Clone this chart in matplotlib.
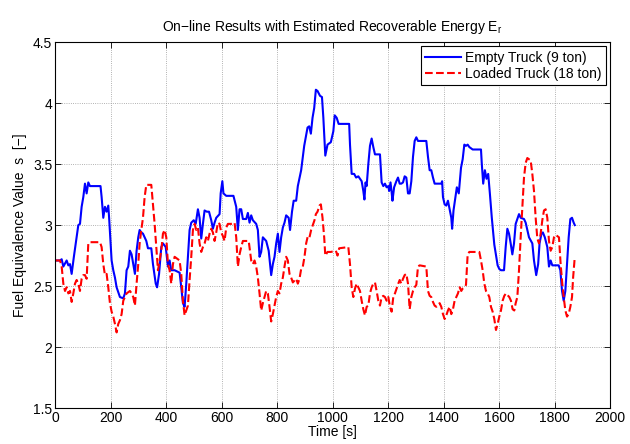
"""On-line results: fuel equivalence value s for empty and loaded truck."""

import matplotlib

matplotlib.use("Agg")
import matplotlib.pyplot as plt

# Empty truck (9 ton)
EMPTY_TIME = [
    0, 18, 24, 30, 42, 48, 54, 60, 68, 78, 84, 90, 96, 102, 108, 114, 120, 126,
    164, 168, 174, 180, 186, 192, 195, 204, 210, 216, 222, 234, 246, 252, 258,
    264, 270, 276, 282, 288, 294, 300, 305, 311, 317, 329, 335, 347, 353, 363,
    368, 375, 383, 389, 399, 407, 413, 419, 431, 449, 455, 461, 467, 473, 479,
    485, 491, 500, 507, 515, 521, 527, 533, 539, 547, 555, 563, 569, 575, 581,
    593, 597, 603, 607, 617, 643, 653, 659, 665, 671, 677, 689, 695, 701, 707,
    713, 725, 731, 737, 743, 749, 761, 770, 779, 785, 791, 797, 803, 809, 815,
    821, 827, 833, 842, 847, 854, 860, 869, 875, 887, 898, 910, 916, 922, 928,
    934, 940, 946, 955, 962, 967, 974, 982, 994, 1003, 1008, 1015, 1022, 1060,
    1063, 1069, 1078, 1085, 1093, 1105, 1111, 1115, 1119, 1123, 1129, 1135,
    1141, 1147, 1153, 1171, 1177, 1183, 1189, 1195, 1201, 1204, 1209, 1213,
    1216, 1222, 1230, 1236, 1242, 1248, 1254, 1260, 1266, 1272, 1278, 1284,
    1290, 1296, 1302, 1308, 1338, 1344, 1350, 1356, 1362, 1368, 1392, 1395,
    1398, 1404, 1410, 1416, 1422, 1428, 1431, 1436, 1443, 1448, 1455, 1463,
    1469, 1475, 1481, 1487, 1493, 1505, 1535, 1538, 1543, 1549, 1555, 1561,
    1567, 1574, 1583, 1595, 1601, 1607, 1618, 1624, 1630, 1636, 1642, 1648,
    1654, 1660, 1666, 1672, 1678, 1690, 1696, 1702, 1708, 1720, 1726, 1734,
    1741, 1746, 1753, 1758, 1765, 1774, 1780, 1786, 1792, 1815, 1821, 1827,
    1833, 1839, 1845, 1851, 1857, 1863, 1869, 1873,
]
EMPTY_S = [
    2.71, 2.71, 2.72, 2.66, 2.71, 2.67, 2.68, 2.60, 2.74, 2.90, 3.00, 3.01,
    3.15, 3.23, 3.34, 3.26, 3.35, 3.32, 3.32, 3.23, 3.06, 3.15, 3.11, 3.16,
    3.06, 2.71, 2.63, 2.57, 2.49, 2.41, 2.40, 2.44, 2.63, 2.66, 2.79, 2.76,
    2.68, 2.60, 2.79, 2.90, 2.96, 2.94, 2.93, 2.87, 2.81, 2.81, 2.68, 2.52,
    2.49, 2.60, 2.82, 2.85, 2.82, 2.66, 2.71, 2.63, 2.63, 2.61, 2.49, 2.36,
    2.33, 2.52, 2.74, 2.96, 3.02, 3.04, 3.01, 3.13, 3.06, 2.89, 3.01, 3.12,
    3.11, 3.11, 3.04, 2.97, 3.02, 3.06, 3.09, 3.26, 3.36, 3.26, 3.24, 3.24,
    3.15, 2.96, 3.13, 3.13, 3.05, 3.05, 3.10, 3.02, 3.08, 3.04, 3.01, 2.96,
    2.74, 2.78, 2.90, 2.87, 2.79, 2.59, 2.68, 2.74, 2.85, 2.93, 2.78, 2.90,
    2.98, 3.02, 3.08, 3.06, 2.96, 3.11, 3.20, 3.20, 3.32, 3.45, 3.65, 3.80,
    3.81, 3.75, 3.88, 3.96, 4.11, 4.10, 4.06, 4.05, 3.88, 3.57, 3.66, 3.68,
    3.77, 3.90, 3.88, 3.83, 3.83, 3.66, 3.42, 3.42, 3.39, 3.40, 3.36, 3.28,
    3.21, 3.35, 3.32, 3.50, 3.65, 3.71, 3.64, 3.58, 3.58, 3.35, 3.32, 3.34,
    3.31, 3.32, 3.28, 3.35, 3.27, 3.20, 3.31, 3.36, 3.39, 3.34, 3.34, 3.35,
    3.40, 3.39, 3.26, 3.26, 3.36, 3.56, 3.69, 3.72, 3.69, 3.69, 3.56, 3.45,
    3.45, 3.39, 3.34, 3.34, 3.36, 3.23, 3.17, 3.16, 3.20, 3.13, 3.06, 2.97,
    3.12, 3.23, 3.31, 3.26, 3.47, 3.54, 3.66, 3.65, 3.66, 3.64, 3.62, 3.62,
    3.50, 3.34, 3.45, 3.38, 3.42, 3.26, 3.06, 2.84, 2.67, 2.64, 2.63, 2.63,
    2.82, 2.97, 2.93, 2.85, 2.76, 2.85, 3.01, 3.05, 3.09, 3.06, 3.05, 3.02,
    2.96, 2.90, 2.85, 2.71, 2.59, 2.68, 2.85, 2.93, 2.94, 2.90, 2.82, 2.66,
    2.71, 2.67, 2.67, 2.63, 2.46, 2.38, 2.46, 2.68, 2.90, 3.05, 3.06, 3.02,
    3.00,
]

# Loaded truck (18 ton)
LOADED_TIME = [
    0, 18, 24, 30, 36, 42, 48, 54, 60, 66, 72, 78, 84, 90, 96, 102, 108, 114,
    120, 126, 162, 168, 174, 180, 186, 192, 198, 204, 210, 216, 222, 228, 234,
    240, 246, 252, 258, 270, 276, 282, 288, 294, 300, 305, 311, 317, 323, 329,
    347, 353, 359, 365, 371, 377, 383, 389, 395, 401, 407, 413, 419, 425, 431,
    443, 449, 455, 461, 467, 473, 479, 485, 491, 497, 503, 509, 515, 521, 527,
    533, 539, 545, 551, 557, 563, 569, 575, 581, 587, 593, 599, 605, 611, 617,
    623, 635, 647, 653, 659, 665, 671, 677, 698, 707, 713, 719, 725, 731, 737,
    743, 749, 755, 761, 767, 773, 779, 785, 791, 797, 803, 809, 815, 821, 827,
    833, 839, 845, 851, 857, 869, 875, 881, 887, 893, 899, 905, 911, 917, 923,
    929, 935, 940, 946, 953, 958, 964, 970, 974, 982, 994, 1012, 1018, 1024,
    1057, 1063, 1069, 1075, 1081, 1087, 1093, 1099, 1105, 1111, 1117, 1123,
    1129, 1135, 1141, 1147, 1153, 1159, 1165, 1171, 1177, 1183, 1189, 1195,
    1201, 1207, 1213, 1219, 1225, 1231, 1237, 1242, 1248, 1254, 1260, 1266,
    1272, 1278, 1284, 1290, 1296, 1302, 1308, 1314, 1338, 1344, 1350, 1356,
    1362, 1368, 1374, 1386, 1392, 1398, 1404, 1410, 1416, 1422, 1428, 1434,
    1440, 1446, 1452, 1458, 1464, 1469, 1475, 1481, 1487, 1493, 1529, 1535,
    1541, 1547, 1553, 1559, 1565, 1571, 1577, 1583, 1589, 1595, 1601, 1607,
    1613, 1619, 1625, 1637, 1643, 1649, 1655, 1660, 1666, 1672, 1678, 1684,
    1690, 1696, 1702, 1708, 1714, 1720, 1726, 1732, 1738, 1744, 1750, 1756,
    1762, 1768, 1774, 1780, 1786, 1792, 1798, 1804, 1816, 1822, 1828, 1833,
    1839, 1845, 1851, 1857, 1863, 1867, 1873,
]
LOADED_S = [
    2.71, 2.71, 2.66, 2.52, 2.46, 2.49, 2.44, 2.46, 2.37, 2.44, 2.52, 2.55,
    2.52, 2.46, 2.56, 2.59, 2.59, 2.56, 2.85, 2.86, 2.86, 2.82, 2.68, 2.59,
    2.60, 2.49, 2.36, 2.29, 2.25, 2.19, 2.12, 2.19, 2.22, 2.27, 2.38, 2.41,
    2.44, 2.46, 2.44, 2.41, 2.34, 2.52, 2.68, 2.85, 2.96, 3.06, 3.23, 3.33,
    3.33, 3.17, 3.01, 2.82, 2.63, 2.71, 2.79, 2.93, 2.96, 2.90, 2.68, 2.63,
    2.52, 2.68, 2.74, 2.72, 2.71, 2.60, 2.38, 2.26, 2.30, 2.34, 2.55, 2.74,
    2.96, 3.01, 2.96, 2.98, 2.85, 2.78, 2.82, 2.85, 2.90, 2.87, 2.93, 2.97,
    2.94, 2.87, 2.94, 3.02, 3.01, 2.94, 2.91, 2.87, 2.98, 3.01, 3.01, 3.02,
    2.90, 2.66, 2.76, 2.82, 2.87, 2.87, 2.71, 2.68, 2.71, 2.66, 2.57, 2.44,
    2.30, 2.36, 2.41, 2.46, 2.44, 2.33, 2.21, 2.27, 2.34, 2.41, 2.46, 2.44,
    2.52, 2.57, 2.66, 2.74, 2.71, 2.60, 2.57, 2.53, 2.56, 2.52, 2.56, 2.64,
    2.66, 2.74, 2.85, 2.91, 2.90, 2.96, 3.00, 3.04, 3.09, 3.11, 3.16, 3.17,
    3.06, 2.90, 2.75, 2.78, 2.78, 2.79, 2.75, 2.81, 2.82, 2.68, 2.49, 2.41,
    2.48, 2.52, 2.49, 2.46, 2.38, 2.31, 2.26, 2.33, 2.34, 2.44, 2.49, 2.52,
    2.53, 2.46, 2.38, 2.34, 2.41, 2.42, 2.41, 2.38, 2.41, 2.33, 2.29, 2.41,
    2.44, 2.48, 2.52, 2.55, 2.52, 2.56, 2.59, 2.60, 2.52, 2.31, 2.41, 2.46,
    2.49, 2.51, 2.66, 2.67, 2.66, 2.46, 2.42, 2.41, 2.37, 2.34, 2.33, 2.36,
    2.33, 2.27, 2.23, 2.26, 2.30, 2.33, 2.27, 2.31, 2.38, 2.41, 2.44, 2.49,
    2.46, 2.48, 2.49, 2.51, 2.76, 2.78, 2.78, 2.71, 2.63, 2.52, 2.46, 2.44,
    2.41, 2.33, 2.29, 2.23, 2.14, 2.19, 2.25, 2.30, 2.38, 2.42, 2.44, 2.41,
    2.38, 2.31, 2.30, 2.36, 2.41, 2.63, 2.90, 3.15, 3.39, 3.51, 3.55, 3.54,
    3.53, 3.42, 3.28, 3.06, 2.89, 2.85, 2.93, 3.04, 3.12, 3.13, 3.06, 2.87,
    2.79, 2.82, 2.90, 2.92, 2.90, 2.68, 2.52, 2.41, 2.30, 2.25, 2.27, 2.33,
    2.41, 2.57, 2.74,
]

X_TICKS = list(range(0, 2001, 200))
Y_TICKS = [1.5, 2.0, 2.5, 3.0, 3.5, 4.0, 4.5]

plt.rcParams["font.family"] = ["Liberation Sans", "DejaVu Sans"]
plt.rcParams["font.size"] = 10
plt.rcParams["axes.unicode_minus"] = True

figure = plt.figure(figsize=(6.3, 4.44), dpi=100)
axis = figure.add_axes([0.0873, 0.081, 0.881, 0.824])

axis.plot(EMPTY_TIME, EMPTY_S, color="blue", linewidth=1.5, label="Empty Truck (9 ton)")
axis.plot(LOADED_TIME, LOADED_S, color="red", linestyle="--", linewidth=1.5,
          label="Loaded Truck (18 ton)")

axis.set_xlim(0, 2000)
axis.set_ylim(1.5, 4.5)
axis.set_xticks(X_TICKS)
axis.set_yticks(Y_TICKS)
axis.set_yticklabels(["1.5", "2", "2.5", "3", "3.5", "4", "4.5"])
axis.tick_params(direction="in", length=4, width=0.6, top=True, right=True, pad=2)
axis.grid(True, linestyle=":", linewidth=0.6, color="0.6")
for spine in axis.spines.values():
    spine.set_linewidth(0.8)

axis.set_title("On\u2212line Results with Estimated Recoverable Energy E$_\\mathregular{r}$",
               fontsize=10, pad=8)
axis.set_xlabel("Time [s]", labelpad=0)
axis.set_ylabel("Fuel Equivalence Value  s  [\u2212]", labelpad=4)

legend = axis.legend(loc="upper right", fancybox=False, edgecolor="black",
                     framealpha=1, borderpad=0.3, handlelength=2.6,
                     handletextpad=0.3, labelspacing=0.2, borderaxespad=0.3)
legend.get_frame().set_linewidth(0.8)

figure.savefig("out.png", dpi=100)
plt.close(figure)
